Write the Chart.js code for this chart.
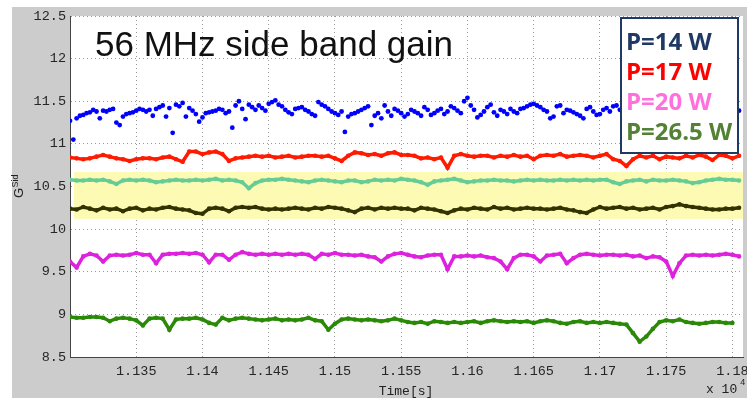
<!DOCTYPE html>
<html>
<head>
<meta charset="utf-8">
<title>56 MHz side band gain</title>
<script src="https://cdn.jsdelivr.net/npm/chart.js@4.4.1/dist/chart.umd.min.js"></script>
<style>
  html, body { margin: 0; padding: 0; background: #fff; }
  #wrap { width: 747px; height: 398px; }
</style>
</head>
<body>
<div id="wrap"><canvas id="gainChart" width="747" height="398"></canvas></div>
<script>
// ---------- data (time in s, gain G_Sid) ----------
var times = [
  11300, 11305, 11310, 11315, 11320, 11325, 11330, 11335, 11340, 11345,
  11350, 11355, 11360, 11365, 11370, 11375, 11380, 11385, 11390, 11395,
  11400, 11405, 11410, 11415, 11420, 11425, 11430, 11435, 11440, 11445,
  11450, 11455, 11460, 11465, 11470, 11475, 11480, 11485, 11490, 11495,
  11500, 11505, 11510, 11515, 11520, 11525, 11530, 11535, 11540, 11545,
  11550, 11555, 11560, 11565, 11570, 11575, 11580, 11585, 11590, 11595,
  11600, 11605, 11610, 11615, 11620, 11625, 11630, 11635, 11640, 11645,
  11650, 11655, 11660, 11665, 11670, 11675, 11680, 11685, 11690, 11695,
  11700, 11705, 11710, 11715, 11720, 11725, 11730, 11735, 11740, 11745,
  11750, 11755, 11760, 11765, 11770, 11775, 11780, 11785, 11790, 11795,
  11800, 11805
];
// second set of P=14 W samples, between the ones above
var timesB = [
  11302.5, 11307.5, 11312.5, 11317.5, 11322.5, 11327.5, 11332.5, 11337.5, 11342.5, 11347.5,
  11352.5, 11357.5, 11362.5, 11367.5, 11372.5, 11377.5, 11382.5, 11387.5, 11392.5, 11397.5,
  11402.5, 11407.5, 11412.5, 11417.5, 11422.5, 11427.5, 11432.5, 11437.5, 11442.5, 11447.5,
  11452.5, 11457.5, 11462.5, 11467.5, 11472.5, 11477.5, 11482.5, 11487.5, 11492.5, 11497.5,
  11502.5, 11507.5, 11512.5, 11517.5, 11522.5, 11527.5, 11532.5, 11537.5, 11542.5, 11547.5,
  11552.5, 11557.5, 11562.5, 11567.5, 11572.5, 11577.5, 11582.5, 11587.5, 11592.5, 11597.5,
  11602.5, 11607.5, 11612.5, 11617.5, 11622.5, 11627.5, 11632.5, 11637.5, 11642.5, 11647.5,
  11652.5, 11657.5, 11662.5, 11667.5, 11672.5, 11677.5, 11682.5, 11687.5, 11692.5, 11697.5,
  11702.5, 11707.5, 11712.5, 11717.5, 11722.5, 11727.5, 11732.5, 11737.5, 11742.5, 11747.5,
  11752.5, 11757.5, 11762.5, 11767.5, 11772.5, 11777.5, 11782.5, 11787.5, 11792.5, 11797.5,
  11802.5
];

var gainP14 = [
  11.27, 11.30, 11.34, 11.37, 11.38, 11.39, 11.40, 11.25, 11.32, 11.36,
  11.39, 11.40, 11.40, 11.41, 11.45, 11.42, 11.46, 11.48, 11.42, 11.35,
  11.31, 11.37, 11.39, 11.40, 11.38, 11.45, 11.41, 11.46, 11.40, 11.42,
  11.47, 11.51, 11.44, 11.37, 11.41, 11.43, 11.38, 11.33, 11.46, 11.41,
  11.36, 11.38, 11.32, 11.36, 11.40, 11.44, 11.33, 11.30, 11.38, 11.41,
  11.36, 11.35, 11.38, 11.33, 11.40, 11.36, 11.41, 11.38, 11.42, 11.36,
  11.54, 11.40, 11.34, 11.43, 11.37, 11.40, 11.35, 11.38, 11.41, 11.44,
  11.47, 11.43, 11.38, 11.32, 11.45, 11.40, 11.37, 11.33, 11.41, 11.38,
  11.35, 11.42, 11.44, 11.40, 11.38, 11.41, 11.37, 11.42, 11.39, 11.40,
  11.36, 11.41, 11.38, 11.43, 11.39, 11.37, 11.40, 11.42, 11.38, 11.41,
  11.37, 11.39
];
var gainP14b = [
  11.05, 11.33, 11.36, 11.40, 11.30, 11.38, 11.41, 11.22, 11.35, 11.37,
  11.41, 11.38, 11.33, 11.43, 11.32, 11.13, 11.44, 11.32, 11.39, 11.26,
  11.36, 11.38, 11.41, 11.36, 11.19, 11.50, 11.29, 11.43, 11.45, 11.39,
  11.49, 11.46, 11.40, 11.35, 11.42, 11.40, 11.35, 11.49, 11.44, 11.38,
  11.34, 11.14, 11.35, 11.38, 11.42, 11.22, 11.36, 11.45, 11.33, 11.39,
  11.32, 11.40, 11.36, 11.43, 11.34, 11.39, 11.35, 11.44, 11.39, 11.50,
  11.45, 11.31, 11.38, 11.46, 11.33, 11.38, 11.41, 11.36, 11.42, 11.46,
  11.45, 11.40, 11.30, 11.44, 11.36, 11.39, 11.35, 11.30, 11.43, 11.34,
  11.40, 11.38, 11.45, 11.40, 11.36, 11.42, 11.38, 11.41, 11.35, 11.39,
  11.43, 11.37, 11.40, 11.38, 11.42, 11.36, 11.40, 11.39, 11.41, 11.37,
  11.38
];
var gainP17 = [
  10.84, 10.83, 10.82, 10.83, 10.85, 10.87, 10.85, 10.83, 10.82, 10.80,
  10.82, 10.83, 10.83, 10.82, 10.84, 10.85, 10.82, 10.79, 10.91, 10.91,
  10.88, 10.90, 10.91, 10.88, 10.80, 10.83, 10.84, 10.85, 10.86, 10.85,
  10.86, 10.84, 10.85, 10.86, 10.84, 10.85, 10.86, 10.86, 10.85, 10.86,
  10.83, 10.80, 10.86, 10.90, 10.89, 10.87, 10.88, 10.86, 10.89, 10.90,
  10.87, 10.87, 10.86, 10.83, 10.84, 10.82, 10.84, 10.72, 10.86, 10.88,
  10.86, 10.85, 10.86, 10.86, 10.84, 10.86, 10.85, 10.87, 10.85, 10.86,
  10.82, 10.86, 10.87, 10.86, 10.88, 10.85, 10.86, 10.87, 10.86, 10.84,
  10.86, 10.88, 10.82, 10.80, 10.74, 10.82, 10.86, 10.84, 10.86, 10.82,
  10.85, 10.84, 10.83, 10.86, 10.84, 10.87, 10.85, 10.81, 10.87, 10.86,
  10.83, 10.86
];
// the two traces inside the yellow band
var gainUpper = [
  10.58, 10.57, 10.57, 10.58, 10.57, 10.58, 10.56, 10.53, 10.57, 10.58,
  10.57, 10.58, 10.57, 10.55, 10.56, 10.57, 10.58, 10.57, 10.57, 10.58,
  10.57, 10.58, 10.59, 10.57, 10.58, 10.57, 10.55, 10.48, 10.54, 10.57,
  10.58, 10.58, 10.59, 10.58, 10.57, 10.56, 10.55, 10.57, 10.58, 10.57,
  10.56, 10.55, 10.57, 10.57, 10.55, 10.56, 10.58, 10.57, 10.58, 10.57,
  10.59, 10.58, 10.57, 10.55, 10.52, 10.56, 10.57, 10.58, 10.59, 10.57,
  10.55, 10.56, 10.57, 10.57, 10.58, 10.57, 10.57, 10.56, 10.57, 10.58,
  10.57, 10.58, 10.57, 10.57, 10.58, 10.57, 10.58, 10.57, 10.58, 10.57,
  10.58, 10.58, 10.55, 10.53, 10.56, 10.57, 10.58, 10.56, 10.58, 10.57,
  10.57, 10.58, 10.57, 10.56, 10.54, 10.55, 10.57, 10.58, 10.59, 10.58,
  10.58, 10.57
];
var gainLower = [
  10.24, 10.23, 10.26, 10.24, 10.22, 10.25, 10.23, 10.24, 10.21, 10.24,
  10.25, 10.22, 10.24, 10.23, 10.25, 10.26, 10.24, 10.23, 10.22, 10.19,
  10.18, 10.24, 10.25, 10.24, 10.21, 10.25, 10.26, 10.25, 10.26, 10.24,
  10.23, 10.24, 10.23, 10.24, 10.25, 10.24, 10.23, 10.25, 10.24, 10.26,
  10.25, 10.24, 10.22, 10.20, 10.24, 10.25, 10.23, 10.25, 10.24, 10.25,
  10.24, 10.24, 10.22, 10.25, 10.24, 10.23, 10.21, 10.19, 10.22, 10.24,
  10.23, 10.25, 10.24, 10.23, 10.26, 10.24, 10.25, 10.23, 10.24, 10.25,
  10.24, 10.24, 10.23, 10.24, 10.25, 10.23, 10.22, 10.20, 10.19, 10.23,
  10.26, 10.24, 10.25, 10.26, 10.24, 10.25, 10.23, 10.24, 10.25, 10.23,
  10.26, 10.27, 10.29, 10.27, 10.26, 10.25, 10.24, 10.23, 10.23, 10.24,
  10.24, 10.25
];
var gainP20 = [
  9.62, 9.55, 9.68, 9.71, 9.69, 9.62, 9.69, 9.70, 9.69, 9.70,
  9.72, 9.70, 9.70, 9.60, 9.70, 9.71, 9.71, 9.72, 9.71, 9.72,
  9.70, 9.61, 9.70, 9.70, 9.64, 9.70, 9.73, 9.71, 9.70, 9.71,
  9.70, 9.71, 9.70, 9.71, 9.70, 9.71, 9.70, 9.65, 9.71, 9.70,
  9.72, 9.70, 9.70, 9.69, 9.70, 9.68, 9.67, 9.62, 9.68, 9.71,
  9.72, 9.70, 9.68, 9.67, 9.69, 9.70, 9.70, 9.53, 9.68, 9.68,
  9.69, 9.68, 9.69, 9.67, 9.66, 9.62, 9.53, 9.66, 9.70, 9.70,
  9.68, 9.62, 9.69, 9.70, 9.71, 9.60, 9.66, 9.70, 9.71, 9.70,
  9.69, 9.70, 9.70, 9.69, 9.70, 9.68, 9.69, 9.66, 9.68, 9.67,
  9.62, 9.45, 9.60, 9.69, 9.70, 9.69, 9.70, 9.69, 9.70, 9.71,
  9.70, 9.68
];
var gainP265 = [
  8.97, 8.96, 8.96, 8.97, 8.97, 8.96, 8.92, 8.95, 8.96, 8.95,
  8.93, 8.87, 8.95, 8.96, 8.95, 8.82, 8.94, 8.95, 8.95, 8.96,
  8.94, 8.90, 8.88, 8.96, 8.93, 8.95, 8.96, 8.95, 8.94, 8.93,
  8.94, 8.95, 8.93, 8.94, 8.93, 8.94, 8.96, 8.93, 8.92, 8.82,
  8.89, 8.94, 8.95, 8.94, 8.93, 8.94, 8.93, 8.92, 8.93, 8.95,
  8.93, 8.91, 8.90, 8.91, 8.89, 8.92, 8.91, 8.90, 8.91, 8.90,
  8.91, 8.92, 8.90, 8.92, 8.93, 8.92, 8.91, 8.92, 8.91, 8.92,
  8.90, 8.92, 8.93, 8.92, 8.90, 8.89, 8.91, 8.92, 8.90, 8.91,
  8.90, 8.91, 8.90, 8.89, 8.88, 8.78, 8.68, 8.74, 8.83, 8.91,
  8.93, 8.92, 8.94, 8.91, 8.90, 8.89, 8.90, 8.91, 8.91, 8.90,
  8.90, null
];

var xTickValues = [11300, 11350, 11400, 11450, 11500, 11550, 11600, 11650, 11700, 11750, 11800];
var xTickLabels = ['', '1.135', '1.14', '1.145', '1.15', '1.155', '1.16', '1.165', '1.17', '1.175', '1.18'];
var yTickValues = [8.5, 9, 9.5, 10, 10.5, 11, 11.5, 12, 12.5];
var yTickLabels = ['8.5', '9', '9.5', '10', '10.5', '11', '11.5', '12', '12.5'];

var legendLabels = ['P=14 W', 'P=17 W', 'P=20 W', 'P=26.5 W'];
var legendColors = ['#1f3864', '#ff0000', '#ff70dc', '#548235'];

// yellow highlight band
var bandStart = 11303;
var bandLow = 10.12;
var bandHigh = 10.67;

var titleText = '56 MHz side band gain';

// ---------- helpers ----------
function pairs(xs, ys) {
  var out = [];
  for (var i = 0; i < xs.length; i++) out.push({ x: xs[i], y: ys[i] });
  return out;
}

function traceSet(label, ys, color) {
  return {
    label: label,
    data: pairs(times, ys),
    borderColor: color,
    backgroundColor: color,
    borderWidth: 3.5,
    pointRadius: 2.3,
    pointBorderWidth: 0,
    tension: 0,
    spanGaps: false
  };
}

var figurePlugin = {
  id: 'figure',
  beforeDraw: function (chart) {
    var ctx = chart.ctx, a = chart.chartArea;
    ctx.save();
    ctx.fillStyle = '#ffffff';
    ctx.fillRect(0, 0, chart.width, chart.height);
    ctx.fillStyle = '#cccccc';
    ctx.fillRect(12, 7, chart.width - 12, chart.height - 7);
    ctx.fillStyle = '#ffffff';
    ctx.fillRect(a.left, a.top, a.right - a.left, a.bottom - a.top);
    ctx.restore();
  },
  beforeDatasetsDraw: function (chart) {
    var ctx = chart.ctx, a = chart.chartArea;
    var xs = chart.scales.x, ys = chart.scales.y;
    var x0 = xs.getPixelForValue(bandStart);
    var y0 = ys.getPixelForValue(bandHigh);
    var y1 = ys.getPixelForValue(bandLow);
    ctx.save();
    ctx.fillStyle = '#fdfbb3';
    ctx.fillRect(x0, y0, a.right - x0, y1 - y0);
    ctx.restore();
  },
  afterDraw: function (chart) {
    var ctx = chart.ctx;
    ctx.save();

    // title inside the axes
    ctx.fillStyle = '#111';
    ctx.font = '35px "Liberation Sans", Arial, sans-serif';
    ctx.textAlign = 'left';
    ctx.textBaseline = 'alphabetic';
    ctx.fillText(titleText, 95, 56);

    // legend box
    ctx.fillStyle = '#ffffff';
    ctx.fillRect(621, 18, 117, 135);
    ctx.strokeStyle = '#1f3864';
    ctx.lineWidth = 2;
    ctx.strokeRect(621, 18, 117, 135);
    ctx.font = 'bold 24px "Open Sans", sans-serif';
    var baselines = [50, 80, 110, 140];
    legendLabels.forEach(function (txt, i) {
      ctx.fillStyle = legendColors[i];
      ctx.fillText(txt, 626, baselines[i]);
    });

    // x axis label and exponent
    ctx.fillStyle = '#222';
    ctx.font = '13px "Liberation Mono", monospace';
    ctx.textAlign = 'center';
    ctx.textBaseline = 'middle';
    ctx.fillText('Time[s]', 406, 392);
    ctx.textAlign = 'left';
    ctx.fillText('x 10', 706, 390);
    ctx.font = '9px "Liberation Mono", monospace';
    ctx.fillText('4', 740, 383);

    // y axis label G^Sid
    ctx.translate(23, 198);
    ctx.rotate(-Math.PI / 2);
    ctx.textBaseline = 'alphabetic';
    ctx.font = '13px "Liberation Sans", Arial, sans-serif';
    ctx.fillText('G', 0, 0);
    var gw = ctx.measureText('G').width;
    ctx.font = '9px "Liberation Sans", Arial, sans-serif';
    ctx.fillText('Sid', gw + 0.5, -5);

    ctx.restore();
  }
};

var tickFont = { family: '"Liberation Mono", "DejaVu Sans Mono", monospace', size: 13.5 };
var gridStyle = { color: 'rgba(0,0,0,0.4)', lineWidth: 1, drawTicks: false };

new Chart(document.getElementById('gainChart'), {
  type: 'line',
  data: {
    datasets: [
      {
        label: 'P=14 W',
        data: pairs(times, gainP14).concat(pairs(timesB, gainP14b)),
        showLine: false,
        backgroundColor: '#0000ff',
        borderColor: '#0000ff',
        pointRadius: 2.4,
        pointBorderWidth: 0
      },
      traceSet('P=17 W', gainP17, '#ff1a00'),
      traceSet('band upper', gainUpper, '#66cc96'),
      traceSet('band lower', gainLower, '#333300'),
      traceSet('P=20 W', gainP20, '#dd22dd'),
      traceSet('P=26.5 W', gainP265, '#2a8a08')
    ]
  },
  options: {
    responsive: false,
    animation: false,
    events: [],
    layout: { padding: { left: 0, right: 3, top: 16, bottom: 0 } },
    plugins: { legend: { display: false }, tooltip: { enabled: false } },
    scales: {
      x: {
        type: 'linear',
        min: 11300,
        max: 11808,
        afterBuildTicks: function (scale) {
          scale.ticks = xTickValues.map(function (v) { return { value: v }; });
        },
        afterFit: function (scale) {
          scale.height = 41;
          scale.paddingLeft = 0;
          scale.paddingRight = 0;
        },
        ticks: {
          autoSkip: false,
          maxRotation: 0,
          padding: 6,
          color: '#262626',
          font: tickFont,
          callback: function (v, i) { return xTickLabels[i]; }
        },
        grid: gridStyle,
        border: { display: true, color: '#444', width: 1, dash: [1, 3] }
      },
      y: {
        type: 'linear',
        min: 8.5,
        max: 12.5,
        afterBuildTicks: function (scale) {
          scale.ticks = yTickValues.map(function (v) { return { value: v }; });
        },
        afterFit: function (scale) {
          scale.width = 70;
          scale.paddingTop = 0;
          scale.paddingBottom = 0;
        },
        ticks: {
          padding: 4,
          color: '#262626',
          font: tickFont,
          callback: function (v, i) { return yTickLabels[i]; }
        },
        grid: gridStyle,
        border: { display: true, color: '#444', width: 1, dash: [1, 3] }
      }
    }
  },
  plugins: [figurePlugin]
});
</script>
</body>
</html>
